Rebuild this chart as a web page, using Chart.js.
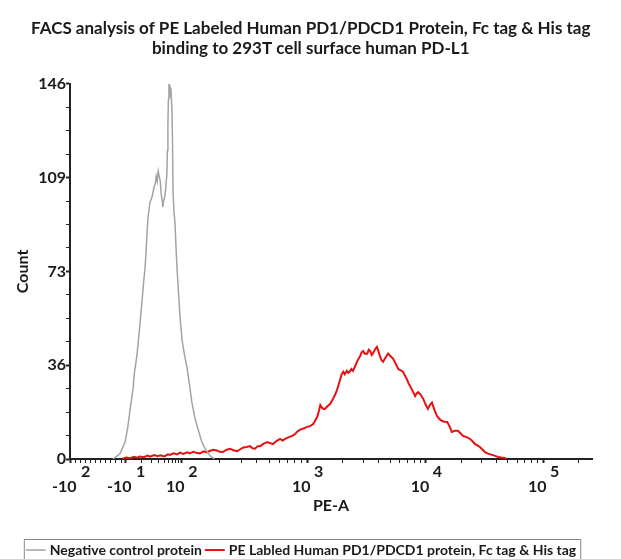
<!DOCTYPE html>
<html lang="en">
<head>
    <meta charset="UTF-8">
    <title>FACS analysis</title>
    <script src="https://cdn.jsdelivr.net/npm/chart.js"></script>
    <style>
        body { margin: 0; background: #fff; }
        .wrap { width: 621px; height: 559px; }
    </style>
</head>
<body>
    <div class="wrap"><canvas id="facsChart"></canvas></div>

    <script>
        // x is the cytometer display channel (0..1024), biexponential scale
        const xMajorTicks = [0, 108, 218, 465, 698, 928];
        const xMajorBase = ['-10', '-10', '10', '10', '10', '10'];
        const xMajorExp = ['2', '1', '2', '3', '4', '5'];
        const yMajorTicks = [0, 36.5, 73, 109.5, 146];
        const yMajorLabels = ['0', '36', '73', '109', '146'];

        const negChannel = [84, 88, 98, 108, 113, 118, 124, 126, 131, 136, 141, 144, 147, 149, 151, 153, 155, 157, 161, 163, 165, 167, 169, 171, 173, 175, 177, 179, 181, 182, 184, 186, 188, 190, 191, 192, 193, 194, 195, 196, 198, 200, 201, 202, 204, 206, 208, 210, 213, 216, 220, 225, 230, 235, 239, 245, 251, 258, 265, 272, 275, 283];
        const negCount = [0, 0.5, 2, 6.6, 12, 19.5, 28, 33, 40, 50, 61, 68, 74, 80, 87.6, 94, 97, 100, 102, 104, 106, 107, 110, 108, 112, 110, 108, 103, 100, 98, 101, 102, 106, 111, 120, 130, 140, 146, 141, 145, 144, 135, 124, 104, 96, 91.5, 82, 74, 64, 54.5, 46, 40, 35, 28, 22, 16, 11.7, 7, 4, 2, 1.2, 0];

        const peChannel = [102, 110, 118, 125, 132, 137, 145, 152, 157, 165, 172, 177, 185, 192, 196, 203, 210, 216, 222, 230, 235, 242, 248, 255, 262, 268, 275, 281, 288, 294, 300, 307, 314, 320, 328, 334, 340, 347, 353, 358, 363, 368, 373, 380, 387, 392, 398, 405, 412, 417, 422, 429, 436, 441, 445, 450, 455, 460, 465, 471, 477, 481, 485, 488, 491, 494, 497, 500, 505, 510, 516, 520, 524, 527, 530, 533, 536, 539, 543, 546, 549, 552, 555, 559, 563, 566, 569, 572, 575, 578, 583, 586, 589, 592, 594, 598, 602, 605, 608, 611, 614, 619, 624, 629, 634, 639, 644, 649, 653, 657, 661, 664, 667, 672, 677, 680, 683, 688, 693, 698, 702, 706, 710, 715, 720, 725, 730, 735, 740, 745, 749, 755, 761, 766, 771, 778, 785, 790, 795, 800, 804, 809, 814, 820, 828, 834, 840, 846, 853, 856];
        const peCount = [0, 0.6, 0.3, 0.9, 0.5, 1, 0.7, 1.3, 0.9, 1.5, 1.1, 1.4, 1, 1.8, 1.6, 2.2, 1.8, 2.5, 2, 2.6, 2.2, 2.8, 2.4, 2.2, 3, 2.6, 3.2, 3.6, 3.3, 2.8, 2.7, 3.6, 4, 3.4, 3, 3.8, 4.5, 4.7, 5, 4.2, 4, 5, 5, 6, 6.6, 6.2, 5.8, 7, 7.8, 7.2, 7.8, 8.5, 9, 9.6, 10.5, 11.2, 11.7, 12, 12.5, 12.8, 13.6, 15, 16.4, 18.5, 21, 20, 19.5, 19.5, 20.5, 21.4, 23.4, 25, 27, 29, 31, 33, 34, 33, 34.3, 33.5, 34, 35, 34.3, 36, 37.8, 39, 40, 41.5, 42, 41, 41, 42.5, 42, 40.5, 41, 42.5, 43.6, 42, 40, 38.5, 37.8, 39.5, 41, 40, 39, 37, 35, 34.5, 34, 32.5, 31, 29.5, 28.4, 26.5, 24.5, 25.5, 26, 25, 23.4, 21, 19.5, 21, 22, 19, 16.7, 15.5, 14.8, 14.5, 14.4, 12.5, 10.5, 11, 11, 10, 9, 8.5, 7.8, 6.8, 5.8, 5.2, 4.7, 3.7, 2.7, 2.1, 1.6, 1.2, 0.8, 0.6, 0.4, 0];

        const FONT = 'Lato, "Open Sans", sans-serif';

        // minor tick positions: linear in the negative part, log steps between decades
        function xTickList() {
            const list = [];
            for (let v = 0; v < 108; v += 10) list.push(v);
            for (let i = 1; i < xMajorTicks.length; i++) {
                const a = xMajorTicks[i], b = i + 1 < xMajorTicks.length ? xMajorTicks[i + 1] : a + 230;
                list.push(a);
                for (let k = 2; k <= 9; k++) {
                    const p = a + (b - a) * Math.log10(k);
                    if (p <= 1024) list.push(p);
                }
            }
            return list;
        }

        // exponent on its own line above, nudged right of the base
        function xLabel(i) {
            const neg = xMajorBase[i].startsWith('-');
            return [' '.repeat(neg ? 8 : 6) + xMajorExp[i], xMajorBase[i] + '   '];
        }

        const pts = (xs, ys) => xs.map((x, i) => ({ x: x, y: ys[i] }));

        const legendBox = {
            id: 'legendBox',
            afterDraw(chart) {
                const boxes = chart.legend.legendHitBoxes;
                if (!boxes || !boxes.length) return;
                const left = Math.min(...boxes.map(b => b.left)) - 5;
                const right = Math.max(...boxes.map(b => b.left + b.width)) + 4;
                const top = boxes[0].top - 4;
                const bottom = boxes[0].top + boxes[0].height + 6;
                const ctx = chart.ctx;
                ctx.save();
                ctx.strokeStyle = '#888';
                ctx.lineWidth = 1;
                ctx.strokeRect(left + 0.5, top + 0.5, right - left, bottom - top);
                ctx.restore();
            }
        };

        new Chart(document.getElementById('facsChart'), {
            type: 'line',
            data: {
                datasets: [{
                    label: 'Negative control protein',
                    data: pts(negChannel, negCount),
                    borderColor: '#a3a3a3',
                    borderWidth: 1.5,
                    pointRadius: 0,
                    tension: 0
                }, {
                    label: 'PE Labled Human PD1/PDCD1 protein, Fc tag & His tag',
                    data: pts(peChannel, peCount),
                    borderColor: '#e81010',
                    borderWidth: 2,
                    pointRadius: 0,
                    tension: 0
                }]
            },
            options: {
                responsive: true,
                maintainAspectRatio: false,
                animation: false,
                layout: { padding: { left: 13, right: 29, top: 10, bottom: -8 } },
                plugins: {
                    title: {
                        display: true,
                        text: ['    FACS analysis of PE Labeled Human PD1/PDCD1 Protein, Fc tag & His tag',
                               '    binding to 293T cell surface human PD-L1'],
                        color: '#1a1a1a',
                        font: { family: FONT, size: 17, weight: 'bold', lineHeight: 1.2 },
                        padding: { top: 8, bottom: 25 }
                    },
                    legend: {
                        position: 'bottom',
                        labels: {
                            usePointStyle: true,
                            pointStyle: 'line',
                            boxWidth: 16,
                            padding: 6,
                            color: '#1a1a1a',
                            font: { family: FONT, size: 14, weight: 'bold' }
                        }
                    },
                    tooltip: { enabled: false }
                },
                scales: {
                    x: {
                        type: 'linear',
                        min: 0,
                        max: 1024,
                        afterBuildTicks: axis => { axis.ticks = xTickList().map(v => ({ value: v })); },
                        ticks: {
                            autoSkip: false,
                            maxRotation: 0,
                            color: '#1a1a1a',
                            padding: 2,
                            font: { family: FONT, size: 16, weight: 'bold', lineHeight: 0.9 },
                            callback: v => {
                                const i = xMajorTicks.indexOf(v);
                                return i >= 0 ? xLabel(i) : '';
                            }
                        },
                        grid: {
                            drawOnChartArea: false,
                            tickLength: 4,
                            color: '#222',
                            tickWidth: ctx => xMajorTicks.includes(ctx.tick && ctx.tick.value) ? 2 : 1
                        },
                        border: { color: '#222', width: 2 },
                        title: {
                            display: true,
                            text: 'PE-A',
                            color: '#1a1a1a',
                            font: { family: FONT, size: 16, weight: 'bold' },
                            padding: { top: 0, bottom: 22 }
                        }
                    },
                    y: {
                        min: 0,
                        max: 146,
                        afterBuildTicks: axis => {
                            const t = [];
                            for (let i = 0; i <= 16; i++) t.push({ value: 146 * i / 16 });
                            axis.ticks = t;
                        },
                        ticks: {
                            autoSkip: false,
                            color: '#1a1a1a',
                            padding: 0,
                            font: { family: FONT, size: 16, weight: 'bold' },
                            callback: v => {
                                const i = yMajorTicks.indexOf(v);
                                return i >= 0 ? yMajorLabels[i] : '';
                            }
                        },
                        grid: {
                            drawOnChartArea: false,
                            tickLength: 4,
                            color: '#222',
                            tickWidth: ctx => yMajorTicks.includes(ctx.tick && ctx.tick.value) ? 2 : 1
                        },
                        border: { color: '#222', width: 2 },
                        title: {
                            display: true,
                            text: 'Count',
                            color: '#1a1a1a',
                            font: { family: FONT, size: 16, weight: 'bold' },
                            padding: { top: 0, bottom: 6 }
                        }
                    }
                }
            },
            plugins: [legendBox]
        });
    </script>
</body>
</html>
